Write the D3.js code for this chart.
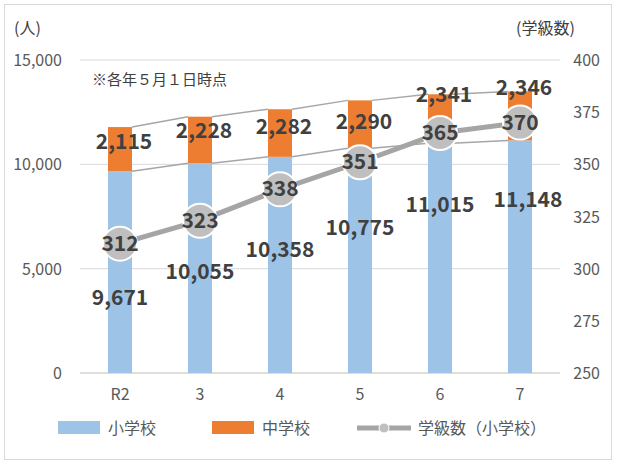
<!DOCTYPE html><html><head><meta charset="utf-8"><script src="https://cdn.jsdelivr.net/npm/d3@7"></script>
<style>body{margin:0;background:#fff}text{font-family:"Noto Sans CJK JP","Noto Sans",sans-serif}</style></head><body><svg id="c" width="617" height="464"></svg>
<script>
const categories=["R2","3","4","5","6","7"];
const elementary=[9671,10055,10358,10775,11015,11148];
const junior=[2115,2228,2282,2290,2341,2346];
const classes=[312,323,338,351,365,370];
const leftTicks=[0,5000,10000,15000];
const rightTicks=[250,275,300,325,350,375,400];
const elemLabelY=[298,272,250,228,205,200];
const juniorLabelY=[142,131,127,122,95,88];
const svg=d3.select("#c");
svg.append("rect").attr("x",4.5).attr("y",4.5).attr("width",607).attr("height",455).attr("fill","none").attr("stroke","#d9d9d9");
const x=d3.scaleBand().domain(categories).range([80,560]).paddingInner(0.7).paddingOuter(0.35);
const y=d3.scaleLinear().domain([0,15000]).range([373,60]);
const y2=d3.scaleLinear().domain([250,400]).range([373,60]);
svg.append("g").selectAll("line").data(leftTicks.slice(1)).join("line").attr("x1",80).attr("x2",560).attr("y1",d=>y(d)).attr("y2",d=>y(d)).attr("stroke","#d9d9d9");
svg.append("line").attr("x1",80).attr("x2",560).attr("y1",y(0)).attr("y2",y(0)).attr("stroke","#bfbfbf");
const f=d3.format(",");
svg.append("g").selectAll("text").data(leftTicks).join("text").attr("x",62).attr("y",d=>y(d)+6).attr("text-anchor","end").attr("font-size",16).attr("fill","#595959").text(f);
svg.append("g").selectAll("text").data(rightTicks).join("text").attr("x",600).attr("y",d=>y2(d)+6).attr("text-anchor","end").attr("font-size",16).attr("fill","#595959").text(d=>d);
svg.append("g").selectAll("text").data(categories).join("text").attr("x",d=>x(d)+x.bandwidth()/2).attr("y",400).attr("text-anchor","middle").attr("font-size",16).attr("fill","#595959").text(d=>d);
svg.append("text").attr("x",14).attr("y",34).attr("font-size",16).attr("fill","#404040").text("(人)");
svg.append("text").attr("x",516).attr("y",34).attr("font-size",16).attr("fill","#404040").text("(学級数)");
svg.append("text").attr("x",92).attr("y",85).attr("font-size",15).attr("fill","#404040").text("※各年５月１日時点");
const bw=x.bandwidth();
for(let i=0;i<categories.length-1;i++){
  const x1=x(categories[i])+bw,x2=x(categories[i+1]);
  svg.append("line").attr("x1",x1).attr("x2",x2).attr("y1",y(elementary[i])).attr("y2",y(elementary[i+1])).attr("stroke","#a6a6a6").attr("stroke-width",1.5);
  svg.append("line").attr("x1",x1).attr("x2",x2).attr("y1",y(elementary[i]+junior[i])).attr("y2",y(elementary[i+1]+junior[i+1])).attr("stroke","#a6a6a6").attr("stroke-width",1.5);
}
svg.append("g").selectAll("rect").data(categories).join("rect").attr("x",d=>x(d)).attr("width",bw).attr("y",(d,i)=>y(elementary[i])).attr("height",(d,i)=>y(0)-y(elementary[i])).attr("fill","#9dc3e6");
svg.append("g").selectAll("rect").data(categories).join("rect").attr("x",d=>x(d)).attr("width",bw).attr("y",(d,i)=>y(elementary[i]+junior[i])).attr("height",(d,i)=>y(elementary[i])-y(elementary[i]+junior[i])).attr("fill","#ed7d31");
const cx=d=>x(d)+bw/2;
const lab=(sel)=>sel.attr("font-size",21).attr("font-weight","bold").attr("fill","#404040").attr("text-anchor","middle").attr("font-family","Calibri,Carlito,'Liberation Sans',sans-serif");
svg.append("g").selectAll("text").data(junior).join("text").call(lab).attr("x",(d,i)=>cx(categories[i])+4).attr("y",(d,i)=>juniorLabelY[i]+7).text(f);
svg.append("g").selectAll("text").data(elementary).join("text").call(lab).attr("x",(d,i)=>cx(categories[i])-(i<5?0:-8)).attr("y",(d,i)=>elemLabelY[i]+7).text(f);
svg.append("path").datum(classes).attr("d",d3.line().x((d,i)=>cx(categories[i])).y(d=>y2(d))).attr("fill","none").attr("stroke","#a5a5a5").attr("stroke-width",5);
svg.append("g").selectAll("circle").data(classes).join("circle").attr("cx",(d,i)=>cx(categories[i])).attr("cy",d=>y2(d)).attr("r",17).attr("fill","#bfbfbf").attr("stroke","#fff").attr("stroke-width",2);
svg.append("g").selectAll("text").data(classes).join("text").call(lab).attr("x",(d,i)=>cx(categories[i])).attr("y",d=>y2(d)+7).text(d=>d);
const lg=svg.append("g").attr("font-size",16).attr("fill","#595959");
lg.append("rect").attr("x",58).attr("y",421).attr("width",42).attr("height",13).attr("fill","#9dc3e6");
lg.append("text").attr("x",108).attr("y",434).text("小学校");
lg.append("rect").attr("x",212).attr("y",421).attr("width",42).attr("height",13).attr("fill","#ed7d31");
lg.append("text").attr("x",262).attr("y",434).text("中学校");
lg.append("line").attr("x1",357).attr("x2",411).attr("y1",428).attr("y2",428).attr("stroke","#a5a5a5").attr("stroke-width",5);
lg.append("circle").attr("cx",384).attr("cy",428).attr("r",5).attr("fill","#bfbfbf").attr("stroke","#fff");
lg.append("text").attr("x",418).attr("y",434).text("学級数（小学校）");
</script></body></html>
